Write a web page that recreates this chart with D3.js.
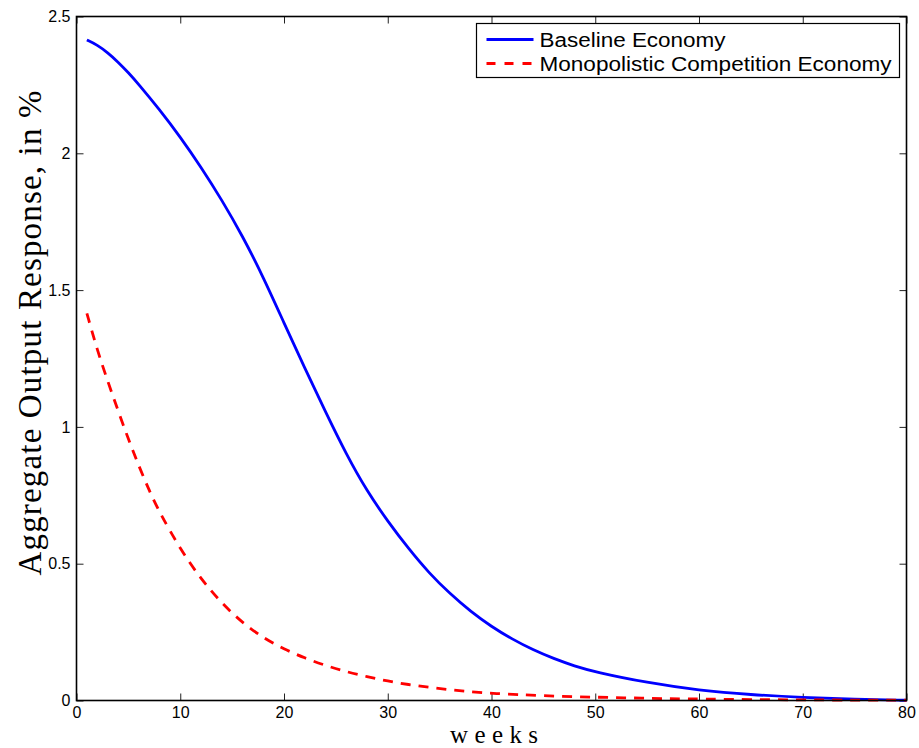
<!DOCTYPE html>
<html>
<head>
<meta charset="utf-8">
<script src="https://cdn.jsdelivr.net/npm/d3@7"></script>
<style>
	body { margin: 0; background: #fff; }
	svg { display: block; }
	.tick text { font-family: "Liberation Sans", Arial, sans-serif; font-size: 16px; fill: #000; }
</style>
</head>
<body>
<svg id="chart" width="919" height="748"></svg>
<script>
const baselineWeeks = [1, 2, 3, 4, 5, 6, 8, 10, 12, 14, 16, 18, 20, 22, 24, 26, 28, 30, 32, 34, 36, 38, 40, 42, 44, 46, 48, 50, 55, 60, 65, 70, 75, 80];
const baselineValues = [2.414, 2.396, 2.368, 2.334, 2.295, 2.252, 2.16, 2.06, 1.95, 1.83, 1.698, 1.548, 1.38, 1.215, 1.055, 0.9, 0.765, 0.655, 0.555, 0.465, 0.39, 0.325, 0.27, 0.224, 0.185, 0.153, 0.126, 0.104, 0.065, 0.037, 0.021, 0.011, 0.005, 0.001];

const monoWeeks = [1, 2, 3, 4, 5, 6, 7, 8, 10, 12, 14, 16, 18, 20, 22, 24, 26, 28, 30, 32, 34, 36, 38, 40, 45, 50, 55, 60, 70, 80];
const monoValues = [1.415, 1.281, 1.168, 1.06, 0.955, 0.858, 0.768, 0.688, 0.553, 0.444, 0.355, 0.284, 0.229, 0.188, 0.155, 0.128, 0.105, 0.087, 0.071, 0.058, 0.048, 0.039, 0.032, 0.026, 0.017, 0.012, 0.008, 0.005, 0.002, 0.001];

const xTicks = [0, 10, 20, 30, 40, 50, 60, 70, 80];
const yTicks = [0, 0.5, 1, 1.5, 2, 2.5];

const seriesNames = ['Baseline Economy', 'Monopolistic Competition Economy'];

const margin = {top: 16.5, right: 12.5, bottom: 47.5, left: 76.5};
const svg = d3.select('#chart'),
	width = +svg.attr('width') - margin.left - margin.right,
	height = +svg.attr('height') - margin.top - margin.bottom;

const x = d3.scaleLinear().domain([0, 80]).range([0, width]);
const y = d3.scaleLinear().domain([0, 2.5]).range([height, 0]);

const g = svg.append('g').attr('transform', `translate(${margin.left},${margin.top})`);

// matlab style box with inward ticks on all four sides
function styleAxis(sel) {
	sel.select('.domain').remove();
	sel.selectAll('.tick line').attr('stroke', '#222').attr('stroke-width', 1);
}

g.append('g')
	.attr('transform', `translate(0,${height})`)
	.call(d3.axisBottom(x).tickValues(xTicks).tickSizeInner(-7).tickSizeOuter(0).tickPadding(6).tickFormat(d3.format('d')))
	.call(styleAxis);
g.append('g')
	.call(d3.axisTop(x).tickValues(xTicks).tickSizeInner(-7).tickSizeOuter(0).tickFormat(''))
	.call(styleAxis);
g.append('g')
	.call(d3.axisLeft(y).tickValues(yTicks).tickSizeInner(-7).tickSizeOuter(0).tickPadding(6).tickFormat(d => d))
	.call(styleAxis);
g.append('g')
	.attr('transform', `translate(${width},0)`)
	.call(d3.axisRight(y).tickValues(yTicks).tickSizeInner(-7).tickSizeOuter(0).tickFormat(''))
	.call(styleAxis);

const line = d3.line()
	.x(d => x(d[0]))
	.y(d => y(d[1]))
	.curve(d3.curveBasis);

g.append('path')
	.datum(d3.zip(baselineWeeks, baselineValues))
	.attr('fill', 'none')
	.attr('stroke', '#0000ff')
	.attr('stroke-width', 2.8)
	.attr('d', line);

g.append('path')
	.datum(d3.zip(monoWeeks, monoValues))
	.attr('fill', 'none')
	.attr('stroke', '#ff0000')
	.attr('stroke-width', 2.8)
	.attr('stroke-dasharray', '10,8')
	.attr('d', line);

g.append('rect')
	.attr('width', width)
	.attr('height', height)
	.attr('fill', 'none')
	.attr('stroke', '#000')
	.attr('stroke-width', 1.6);

// legend
const legend = svg.append('g').attr('transform', 'translate(476.5,23.5)');
legend.append('rect')
	.attr('width', 423)
	.attr('height', 54)
	.attr('fill', '#fff')
	.attr('stroke', '#000')
	.attr('stroke-width', 1.2);

const legendStyles = [
	{color: '#0000ff', dash: null, len: 186},
	{color: '#ff0000', dash: '9,9', len: 352}
];
seriesNames.forEach((name, i) => {
	const row = legend.append('g').attr('transform', `translate(0,${16 + i * 24})`);
	row.append('line')
		.attr('x1', 10).attr('x2', 57)
		.attr('stroke', legendStyles[i].color)
		.attr('stroke-width', 2.8)
		.attr('stroke-dasharray', legendStyles[i].dash);
	row.append('text')
		.attr('x', 63)
		.attr('dy', '0.36em')
		.attr('font-family', '"Liberation Sans", Arial, sans-serif')
		.attr('font-size', '20px')
		.attr('textLength', legendStyles[i].len)
		.attr('lengthAdjust', 'spacingAndGlyphs')
		.text(name);
});

// axis labels (serif, spaced out a little to mimic the latex font width)
svg.append('text')
	.attr('x', 494)
	.attr('y', 743)
	.attr('text-anchor', 'middle')
	.attr('font-family', '"Liberation Serif", serif')
	.attr('font-size', '25px')
	.attr('textLength', 88)
	.text('weeks');

svg.append('text')
	.attr('transform', 'translate(41,333) rotate(-90)')
	.attr('text-anchor', 'middle')
	.attr('font-family', '"Liberation Serif", serif')
	.attr('font-size', '33px')
	.attr('textLength', 485)
	.text('Aggregate Output Response, in %');
</script>
</body>
</html>
